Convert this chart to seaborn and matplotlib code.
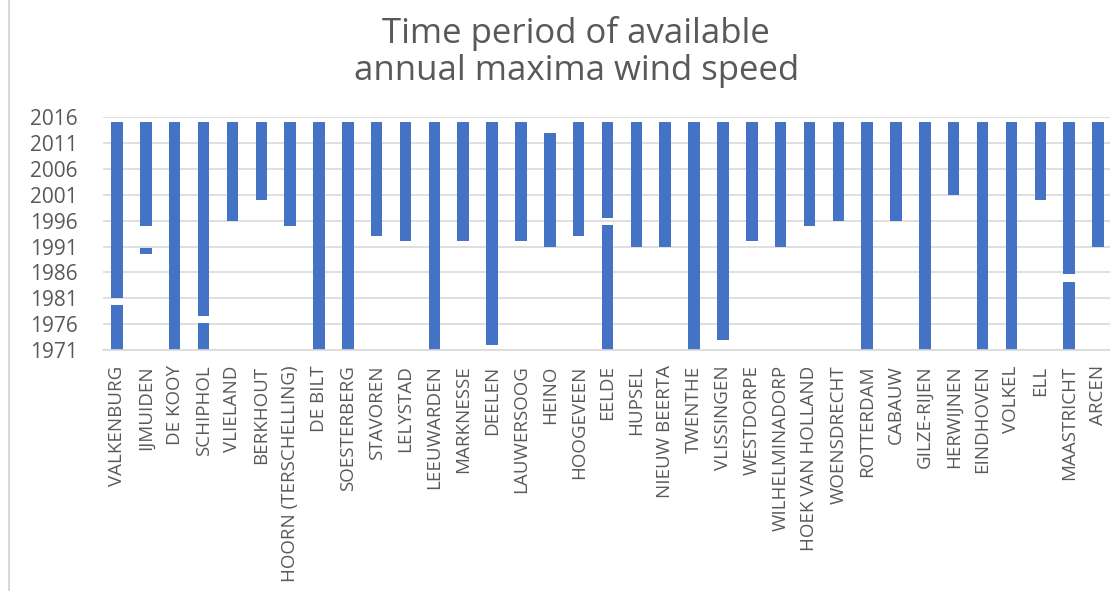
import matplotlib
matplotlib.use("Agg")
import matplotlib.pyplot as plt
from matplotlib.lines import Line2D
import seaborn as sns
import pandas as pd

# Weather stations and the years covered by their annual maxima records
stations = [
    "VALKENBURG", "IJMUIDEN", "DE KOOY", "SCHIPHOL", "VLIELAND", "BERKHOUT",
    "HOORN (TERSCHELLING)", "DE BILT", "SOESTERBERG", "STAVOREN", "LELYSTAD",
    "LEEUWARDEN", "MARKNESSE", "DEELEN", "LAUWERSOOG", "HEINO", "HOOGEVEEN",
    "EELDE", "HUPSEL", "NIEUW BEERTA", "TWENTHE", "VLISSINGEN", "WESTDORPE",
    "WILHELMINADORP", "HOEK VAN HOLLAND", "WOENSDRECHT", "ROTTERDAM", "CABAUW",
    "GILZE-RIJEN", "HERWIJNEN", "EINDHOVEN", "VOLKEL", "ELL", "MAASTRICHT", "ARCEN",
]
# Most recent continuous record per station
period_start = [
    1981, 1995, 1971, 1977.5, 1996, 2000,
    1995, 1971, 1971, 1993, 1992,
    1971, 1992, 1972, 1992, 1991, 1993,
    1996.5, 1991, 1991, 1971, 1973, 1992,
    1991, 1995, 1996, 1971, 1996,
    1971, 2001, 1971, 1971, 2000, 1985.7, 1991,
]
period_end = [
    2015, 2015, 2015, 2015, 2015, 2015,
    2015, 2015, 2015, 2015, 2015,
    2015, 2015, 2015, 2015, 2013, 2015,
    2015, 2015, 2015, 2015, 2015, 2015,
    2015, 2015, 2015, 2015, 2015,
    2015, 2015, 2015, 2015, 2015, 2015, 2015,
]
# Earlier records separated from the recent one by missing years
early_station = ["VALKENBURG", "IJMUIDEN", "SCHIPHOL", "EELDE", "MAASTRICHT"]
early_start = [1971, 1989.5, 1971, 1971, 1971]
early_end = [1979.7, 1990.8, 1976.2, 1995.1, 1984.2]

year_ticks = list(range(1971, 2017, 5))

main = pd.DataFrame({"station": stations, "start": period_start, "end": period_end})
main["span"] = main["end"] - main["start"]
early = pd.DataFrame({"station": early_station, "start": early_start, "end": early_end})
early["span"] = early["end"] - early["start"]

sns.set_theme(style="white")
plt.rcParams["font.family"] = ["Open Sans", "DejaVu Sans"]

W, H = 1110, 591
fig = plt.figure(figsize=(W / 100, H / 100), dpi=100)
ax = fig.add_axes([102.6 / W, 241 / H, 1009.8 / W, 232.7 / H])

blue = "#4472C4"
text_grey = "#595959"
line_grey = "#d9d9d9"

for seg in (main, early):
    sns.barplot(
        data=seg, x="station", y="span", order=stations,
        bottom=seg["start"].to_numpy(), color=blue, saturation=1,
        width=0.4, linewidth=0, errorbar=None, ax=ax,
    )

ax.set_xlim(-0.5, len(stations) - 0.5)
ax.set_ylim(1971, 2016)
ax.set_yticks(year_ticks)
ax.set_yticklabels([str(y) for y in year_ticks])
ax.set_xlabel("")
ax.set_ylabel("")

ax.yaxis.grid(True, color=line_grey, linewidth=1.2)
ax.xaxis.grid(False)
ax.set_axisbelow(True)
for side in ("left", "right", "top"):
    ax.spines[side].set_visible(False)
ax.spines["bottom"].set_color(line_grey)
ax.spines["bottom"].set_linewidth(1.2)

ax.tick_params(axis="x", labelrotation=90, labelsize=13.5, labelcolor=text_grey,
               length=0, pad=11)
ax.tick_params(axis="y", labelsize=15, labelcolor=text_grey, length=0, pad=18)

fig.text(576 / W, 1 - 43 / H, "Time period of available", ha="center",
         va="baseline", fontsize=25, color=text_grey)
fig.text(577 / W, 1 - 80 / H, "annual maxima wind speed", ha="center",
         va="baseline", fontsize=25, color=text_grey)

# Chart frame edge on the left
fig.add_artist(Line2D([8.5 / W, 8.5 / W], [0, 1], transform=fig.transFigure,
                      color=line_grey, linewidth=1.5))

fig.savefig("out.png", dpi=100)
